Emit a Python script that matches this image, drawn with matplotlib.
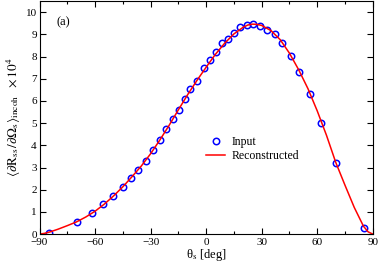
import numpy as np
import matplotlib
matplotlib.use("Agg")
import matplotlib.pyplot as plt
from matplotlib.ticker import MultipleLocator

plt.rcParams['font.family'] = ['Liberation Serif', 'DejaVu Serif']
plt.rcParams['mathtext.fontset'] = 'stix'

# input points (theta_s in deg, value x 1e4)
theta_in = [-84.9, -69.7, -61.6, -55.5, -50.1, -45.1, -40.7, -36.6, -32.6, -28.7,
            -24.9, -21.7, -17.9, -14.6, -11.2, -8.7, -4.7, -1.3, 2.0, 5.2,
            8.6, 11.7, 14.9, 18.5, 22.1, 25.5, 29.1, 33.1, 37.1, 41.2,
            45.7, 50.4, 56.1, 62.2, 70.2, 85.1]
val_in = [0.05, 0.53, 0.94, 1.34, 1.71, 2.13, 2.53, 2.89, 3.28, 3.79,
          4.24, 4.72, 5.19, 5.59, 6.07, 6.55, 6.88, 7.50, 7.84, 8.20,
          8.61, 8.79, 9.06, 9.33, 9.40, 9.46, 9.37, 9.21, 9.03, 8.59,
          8.04, 7.32, 6.33, 5.02, 3.19, 0.27]

# reconstructed curve
theta_rec = [-90, -87.5, -85, -80, -75, -70, -65, -60, -55, -50, -45, -40, -35, -30,
             -25, -20, -15, -10, -5, 0, 5, 10, 15, 20, 22.5, 25, 27.5, 30, 35, 40,
             45, 50, 55, 60, 65, 70, 75, 80, 85, 87.5, 90]
val_rec = [0.0, 0.03, 0.08, 0.22, 0.38, 0.55, 0.77, 1.03, 1.35, 1.72, 2.13, 2.59, 3.07, 3.62,
           4.24, 4.90, 5.60, 6.28, 6.92, 7.52, 8.10, 8.60, 9.02, 9.32, 9.42, 9.46, 9.45, 9.40, 9.17, 8.76,
           8.15, 7.40, 6.55, 5.55, 4.45, 3.23, 2.20, 1.20, 0.35, 0.10, 0.0]

fig = plt.figure(figsize=(3.8, 2.66), dpi=100)
ax = fig.add_axes([0.104, 0.12, 0.877, 0.876])

ax.plot(theta_in, val_in, 'o', mfc='none', mec='#0000ff', mew=1.1, ms=4.6, label='Input')
ax.plot(theta_rec, val_rec, '-', color='#ff0000', lw=1.1, label='Reconstructed')

ax.set_xlim(-90, 90)
ax.set_ylim(0, 10.5)
ax.xaxis.set_major_locator(MultipleLocator(30))
ax.xaxis.set_minor_locator(MultipleLocator(15))
ax.yaxis.set_major_locator(MultipleLocator(1))
ax.tick_params(which='both', direction='in', top=True, right=True, labelsize=8)
ax.tick_params(axis='x', pad=2.5)
ax.tick_params(axis='y', pad=2)
ax.tick_params(which='major', length=4.5, width=0.8)
ax.tick_params(which='minor', length=2.5, width=0.8)
for s in ax.spines.values():
    s.set_linewidth(0.8)

ax.set_xlabel('θ$_{\\rm s}$ [deg]', fontsize=9, labelpad=0)
ax.set_ylabel(r'$\langle\partial \mathrm{R}_{\rm ss}\,/\partial\Omega_{\rm s}\rangle_{\rm incoh}\ \ \times 10^4$',
              fontsize=9.5, labelpad=2)
ax.text(0.05, 0.895, '(a)', transform=ax.transAxes, fontsize=9)

ax.legend(loc='lower left', bbox_to_anchor=(0.475, 0.275), frameon=False, fontsize=8.5,
          handlelength=1.6, handletextpad=0.6, labelspacing=0.15, borderpad=0.2)

fig.savefig('out.png', dpi=100)
